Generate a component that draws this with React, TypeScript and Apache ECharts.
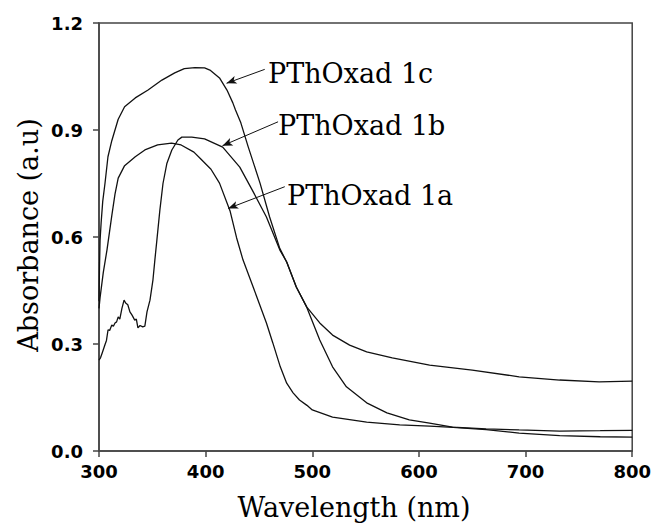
import React, { useEffect, useRef } from "react";
import * as echarts from "echarts";

const xTicks = [300, 400, 500, 600, 700, 800];
const yTicks = [0.0, 0.3, 0.6, 0.9, 1.2];

const series1a: [number, number][] = [
  [300, 0.40], [301, 0.43], [304, 0.5], [307.5, 0.564], [312, 0.66], [315, 0.72],
  [318, 0.765], [324, 0.8], [334, 0.825], [343, 0.844], [355, 0.858], [368, 0.863],
  [377, 0.858], [389, 0.838], [395, 0.82], [405, 0.79], [413, 0.751], [423, 0.672],
  [429, 0.598], [435, 0.536], [448, 0.432], [457, 0.359], [463, 0.303], [470, 0.236],
  [476, 0.19], [482, 0.163], [488, 0.143], [495, 0.128], [500, 0.115], [519, 0.095],
  [551, 0.081], [582, 0.073], [610, 0.07], [632, 0.066], [663, 0.06], [694, 0.05],
  [732, 0.043], [770, 0.04], [800, 0.039],
];

const series1b: [number, number][] = [
  [300, 0.255], [301.5, 0.262], [303, 0.275], [305.5, 0.297], [307, 0.31], [308.5, 0.34],
  [310, 0.338], [312, 0.353], [313.5, 0.35], [315, 0.359], [316.5, 0.362], [318, 0.376],
  [319.5, 0.37], [321.5, 0.4], [323.5, 0.423], [325, 0.415], [327, 0.41], [329, 0.39],
  [331, 0.381], [333.5, 0.367], [335, 0.37], [336.5, 0.345], [338.5, 0.352], [341, 0.348],
  [343, 0.35], [345, 0.39], [347.8, 0.423], [350.6, 0.48], [352.4, 0.536], [354.3, 0.592],
  [357.1, 0.676], [360, 0.75], [363.7, 0.807], [368.3, 0.844], [374, 0.872], [377.7, 0.88],
  [387, 0.88], [399, 0.875], [416, 0.852], [432, 0.796], [444, 0.73], [457, 0.656],
  [469.5, 0.564], [476, 0.53], [485, 0.46], [494.7, 0.404], [507, 0.311], [519, 0.236],
  [532, 0.18], [551, 0.135], [570, 0.107], [591, 0.087], [610, 0.078], [631.5, 0.067],
  [663, 0.062], [694, 0.059], [732, 0.056], [770, 0.057], [800, 0.058],
];

const series1c: [number, number][] = [
  [300, 0.42], [300.5, 0.52], [301, 0.59], [302, 0.64], [303.5, 0.7], [305.6, 0.75],
  [308.4, 0.825], [312, 0.87], [318, 0.93], [324, 0.965], [334, 0.99], [346, 1.012],
  [359, 1.04], [371, 1.06], [380, 1.072], [390, 1.075], [399, 1.074], [404, 1.068],
  [413, 1.046], [420, 1.012], [425.5, 0.976], [428, 0.956], [433, 0.92], [440, 0.852],
  [451, 0.751], [460, 0.656], [469.5, 0.568], [476, 0.53], [485, 0.46], [494.7, 0.404],
  [507, 0.359], [519, 0.325], [535, 0.297], [551, 0.278], [575, 0.261], [610, 0.241],
  [650, 0.227], [694, 0.208], [732, 0.199], [769, 0.194], [800, 0.196],
];

const labelNames = ["PThOxad 1a", "PThOxad 1b", "PThOxad 1c"];
// arrow tail and tip in data coordinates
const arrows1a = [[474.2, 0.741], [421.1, 0.68]];
const arrows1b = [[467.9, 0.923], [415.8, 0.856]];
const arrows1c = [[455.4, 1.07], [419.6, 1.031]];

const LINE = "#111";
const AXIS = "#444";

function arrowLine(a: number[][]) {
  return {
    silent: true,
    symbol: ["none", "arrow"],
    symbolSize: [6, 10],
    lineStyle: { color: LINE, width: 1, type: "solid" },
    label: { show: false },
    emphasis: { disabled: true },
    data: [[{ coord: a[0] }, { coord: a[1] }]],
  };
}

export default function App() {
  const ref = useRef<HTMLDivElement>(null);
  useEffect(() => {
    document.body.style.margin = "0";
    if (!ref.current) return;
    const chart = echarts.init(ref.current, undefined, { renderer: "svg" });
    const serifText = {
      fontFamily: "DejaVu Serif",
      fontSize: 27,
      fill: "#000",
    };
    chart.setOption({
      animation: false,
      backgroundColor: "#fff",
      grid: {
        left: 99,
        right: 21,
        top: 23,
        bottom: 73,
        show: true,
        borderColor: AXIS,
        borderWidth: 1.5,
      },
      xAxis: {
        type: "value",
        min: xTicks[0],
        max: xTicks[xTicks.length - 1],
        interval: 100,
        axisLine: { show: true, lineStyle: { color: AXIS, width: 1.5 } },
        axisTick: { show: true, inside: false, length: 6, lineStyle: { color: AXIS, width: 1.5 } },
        axisLabel: {
          margin: 11,
          fontFamily: "DejaVu Sans",
          fontWeight: "bold",
          fontSize: 18,
          color: "#000",
        },
        splitLine: { show: false },
      },
      yAxis: {
        type: "value",
        min: yTicks[0],
        max: yTicks[yTicks.length - 1],
        interval: 0.3,
        axisLine: { show: true, lineStyle: { color: AXIS, width: 1.5 } },
        axisTick: { show: true, inside: false, length: 6, lineStyle: { color: AXIS, width: 1.5 } },
        axisLabel: {
          margin: 16,
          fontFamily: "DejaVu Sans",
          fontWeight: "bold",
          fontSize: 18,
          color: "#000",
          formatter: (v: number) => v.toFixed(1),
        },
        splitLine: { show: false },
      },
      series: [
        {
          name: labelNames[0],
          type: "line",
          data: series1a,
          showSymbol: false,
          lineStyle: { color: LINE, width: 1.3 },
          markLine: arrowLine(arrows1a),
        },
        {
          name: labelNames[1],
          type: "line",
          data: series1b,
          showSymbol: false,
          lineStyle: { color: LINE, width: 1.3 },
          markLine: arrowLine(arrows1b),
        },
        {
          name: labelNames[2],
          type: "line",
          data: series1c,
          showSymbol: false,
          lineStyle: { color: LINE, width: 1.3 },
          markLine: arrowLine(arrows1c),
        },
      ],
      graphic: [
        { type: "text", left: 268, top: 60, style: { ...serifText, text: labelNames[2] } },
        { type: "text", left: 278, top: 112, style: { ...serifText, text: labelNames[1] } },
        { type: "text", left: 287, top: 182, style: { ...serifText, text: labelNames[0] } },
        {
          type: "text",
          x: 354,
          y: 507,
          style: { ...serifText, text: "Wavelength (nm)", align: "center", verticalAlign: "middle" },
        },
        {
          type: "text",
          x: 28,
          y: 235,
          rotation: Math.PI / 2,
          style: { ...serifText, text: "Absorbance (a.u)", align: "center", verticalAlign: "middle" },
        },
      ],
    });
    return () => chart.dispose();
  }, []);
  return <div ref={ref} style={{ width: 654, height: 524 }} />;
}
